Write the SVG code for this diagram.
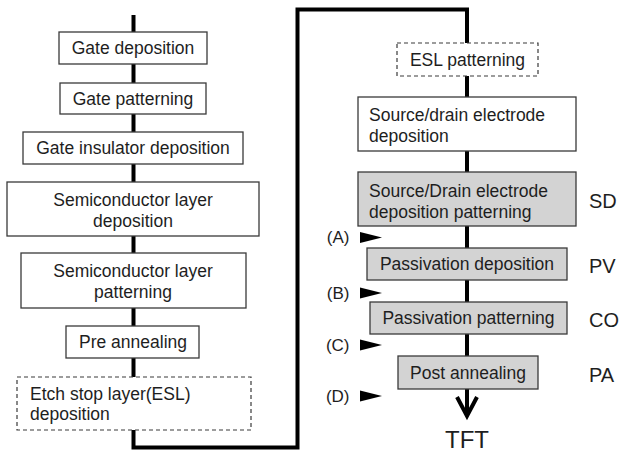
<svg xmlns="http://www.w3.org/2000/svg" width="621" height="454" viewBox="0 0 621 454">
<style>
  .box{fill:#fff;stroke:#3a3a3a;stroke-width:1.3}
  .gray{fill:#d3d3d3;stroke:#3a3a3a;stroke-width:1.3}
  .dash{fill:#fff;stroke:#3a3a3a;stroke-width:1.2;stroke-dasharray:4 3}
  .t{font-family:"Liberation Sans",Arial,sans-serif;font-size:17.5px;fill:#1e1e1e}
  .c{text-anchor:middle}
  .lab{font-family:"Liberation Sans",Arial,sans-serif;font-size:20px;fill:#1e1e1e}
  .abc{font-family:"Liberation Sans",Arial,sans-serif;font-size:17px;fill:#1e1e1e;text-anchor:end}
  .line{fill:none;stroke:#000;stroke-width:4}
  .tri{fill:#000}
</style>
<rect width="621" height="454" fill="#fff"/>
<g id="connectors">
  <path class="line" d="M133.5 15 V447.5 H297.5 V9.5 H467 V414"/>
  <path class="line" d="M457 397 L467 416 L477 397" stroke-linejoin="miter"/>
  <polygon class="tri" points="360,232 382,237.5 360,243"/>
  <polygon class="tri" points="360,287.5 382,293 360,298.5"/>
  <polygon class="tri" points="360,339.5 382,345 360,350.5"/>
  <polygon class="tri" points="360,390.5 382,396 360,401.5"/>
</g>
<g id="gate-deposition"><rect class="box" x="59" y="32" width="148" height="32"/><text class="t c" x="133" y="54">Gate deposition</text></g>
<g id="gate-patterning"><rect class="box" x="60" y="83" width="146" height="31"/><text class="t c" x="133" y="105">Gate patterning</text></g>
<g id="gate-insulator"><rect class="box" x="23" y="132" width="220" height="32"/><text class="t c" x="133" y="154">Gate insulator deposition</text></g>
<g id="semi-dep"><rect class="box" x="7" y="182" width="252" height="54"/><text class="t c" x="133" y="206">Semiconductor layer</text><text class="t c" x="133" y="227">deposition</text></g>
<g id="semi-pat"><rect class="box" x="21" y="253" width="225" height="55"/><text class="t c" x="133" y="277">Semiconductor layer</text><text class="t c" x="133" y="298">patterning</text></g>
<g id="pre-annealing"><rect class="box" x="66" y="326" width="133" height="32"/><text class="t c" x="133" y="348">Pre annealing</text></g>
<g id="esl-dep"><rect class="dash" x="17" y="377" width="234" height="53"/><text class="t" x="30" y="400">Etch stop layer(ESL)</text><text class="t" x="30" y="420">deposition</text></g>
<g id="esl-pat"><rect class="dash" x="397" y="43" width="141" height="33"/><text class="t c" x="467.5" y="66">ESL patterning</text></g>
<g id="sd-dep"><rect class="box" x="358" y="97" width="218" height="54"/><text class="t" x="369" y="121">Source/drain electrode</text><text class="t" x="369" y="142">deposition</text></g>
<g id="sd-pat"><rect class="gray" x="358" y="172" width="218" height="54"/><text class="t" x="369" y="197">Source/Drain electrode</text><text class="t" x="369" y="218">deposition patterning</text><text class="lab" x="589" y="208">SD</text></g>
<g id="pv"><rect class="gray" x="367" y="248" width="200" height="32"/><text class="t c" x="467" y="270">Passivation deposition</text><text class="lab" x="589" y="273">PV</text></g>
<g id="co"><rect class="gray" x="370" y="302" width="197" height="32"/><text class="t c" x="468.5" y="324">Passivation patterning</text><text class="lab" x="589" y="327">CO</text></g>
<g id="pa"><rect class="gray" x="398" y="356" width="140" height="33"/><text class="t c" x="468" y="378.5">Post annealing</text><text class="lab" x="589" y="382">PA</text></g>
<g id="labels">
  <text class="abc" x="349.5" y="243">(A)</text>
  <text class="abc" x="349.5" y="299">(B)</text>
  <text class="abc" x="349.5" y="351">(C)</text>
  <text class="abc" x="349.5" y="402">(D)</text>
</g>
<g id="tft"><text x="467" y="448" text-anchor="middle" font-family="'Liberation Sans',Arial,sans-serif" font-size="24" fill="#1e1e1e">TFT</text></g>
</svg>
